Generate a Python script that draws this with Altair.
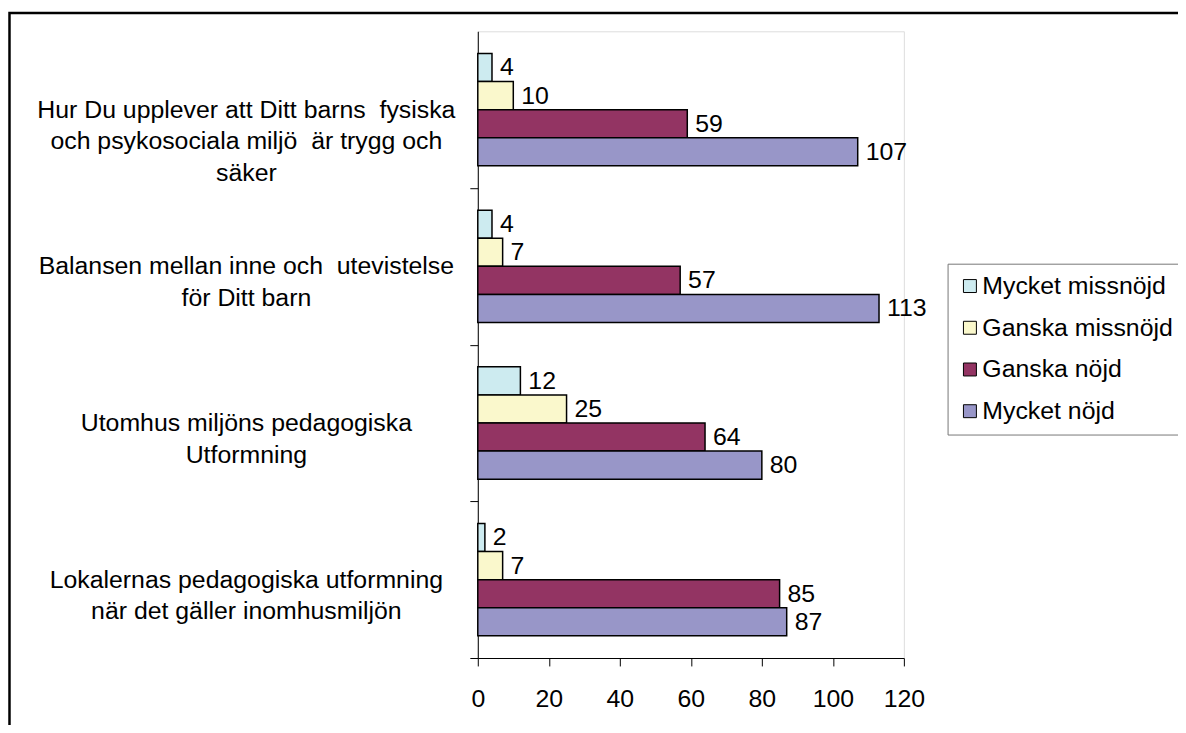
import altair as alt
import pandas as pd

categories = [
    "Hur Du upplever att Ditt barns \u00a0fysiska\noch psykosociala miljö \u00a0är trygg och\nsäker",
    "Balansen mellan inne och \u00a0utevistelse\nför Ditt barn",
    "Utomhus miljöns pedagogiska\nUtformning",
    "Lokalernas pedagogiska utformning\nnär det gäller inomhusmiljön",
]
series = ["Mycket missnöjd", "Ganska missnöjd", "Ganska nöjd", "Mycket nöjd"]
mycket_missnojd = [4, 4, 12, 2]
ganska_missnojd = [10, 7, 25, 7]
ganska_nojd = [59, 57, 64, 85]
mycket_nojd = [107, 113, 80, 87]
colors = ["#CDEBF0", "#FAF8CC", "#933463", "#9896C8"]
x_ticks = [0, 20, 40, 60, 80, 100, 120]

cat_ids = ["c1", "c2", "c3", "c4"]
rows = []
for s, vals in zip(series, [mycket_missnojd, ganska_missnojd, ganska_nojd, mycket_nojd]):
    for cid, v in zip(cat_ids, vals):
        rows.append({"cat": cid, "series": s, "value": v})
df = pd.DataFrame(rows)
lab_df = pd.DataFrame({"cat": cat_ids, "label": categories})

FONT = "Liberation Sans"
FS = 25
STEP = 631 / 4

y_enc = alt.Y("cat:N", sort=cat_ids,
              scale=alt.Scale(paddingInner=0.283, paddingOuter=0.1415),
              axis=alt.Axis(title=None, labels=False, ticks=True,
                            tickOffset=STEP / 2,
                            tickSize=8, tickColor="black", domainColor="black",
                            tickWidth=1, domainWidth=1, grid=False))
x_enc = alt.X("value:Q", scale=alt.Scale(domain=[0, 120], nice=False),
              axis=alt.Axis(title=None, values=x_ticks, tickSize=8, tickColor="black",
                            domainColor="black", labelColor="black", labelFont=FONT,
                            labelFontSize=FS, labelPadding=21, grid=False,
                            labelFlush=False))
yoff = alt.YOffset("series:N", sort=series, scale=alt.Scale(paddingInner=0, paddingOuter=0))

bars = alt.Chart(df).mark_bar(stroke="black", strokeWidth=1.5).encode(
    x=x_enc, y=y_enc, yOffset=yoff,
    color=alt.Color("series:N", sort=series,
                    scale=alt.Scale(domain=series, range=colors),
                    legend=alt.Legend(title=None, orient="none", legendX=473, legendY=234,
                                      strokeColor="#777777", fillColor="white", padding=10,
                                      symbolType="square", symbolSize=170,
                                      symbolStrokeColor="black", symbolStrokeWidth=1,
                                      labelFont=FONT, labelFontSize=FS, labelColor="black",
                                      labelOffset=0, rowPadding=16, symbolOpacity=1,
                                      labelLimit=500)),
)

values = alt.Chart(df).mark_text(align="left", baseline="middle", dx=8, font=FONT,
                                 fontSize=FS, color="black").encode(
    x="value:Q", y=alt.Y("cat:N", sort=cat_ids), yOffset=yoff, text="value:Q")

labels = alt.Chart(lab_df).mark_text(align="center", baseline="middle", lineBreak="\n",
                                     lineHeight=32, font=FONT, fontSize=FS,
                                     color="black").encode(
    x=alt.value(-233), y=alt.Y("cat:N", sort=cat_ids), text="label:N")

frame = alt.Chart(alt.Data(values=[{"a": 1}])).mark_rect(
    filled=False, stroke="black", strokeWidth=2.5).encode(
    x=alt.value(-471.5), x2=alt.value(1200), y=alt.value(-18.5), y2=alt.value(1000))

chart = alt.layer(frame, bars, values, labels).properties(
    width=429, height=631,
    autosize=alt.AutoSizeParams(type="none"),
    padding={"left": 473, "top": 21, "right": 276, "bottom": 65},
).configure_view(stroke=None).configure(background="white")

chart.save("out.html", embed_options={"renderer": "svg", "actions": False})
